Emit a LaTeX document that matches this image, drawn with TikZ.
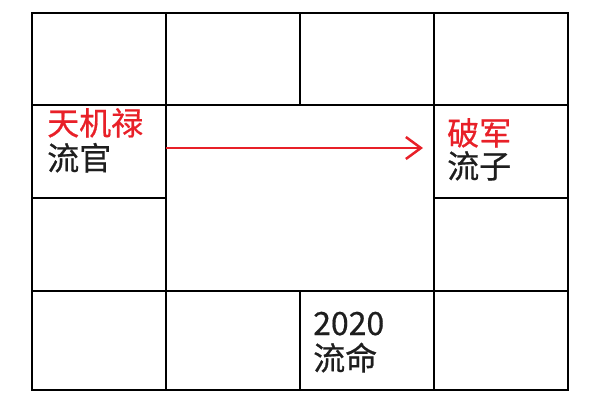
\documentclass[tikz,border=0pt]{standalone}
\usepackage{fontspec}
\newfontfamily\cjk[FakeBold=0.6]{Noto Sans CJK SC}
\usetikzlibrary{arrows.meta,positioning}
\definecolor{starred}{RGB}{232,32,40}
\definecolor{inkgray}{RGB}{30,30,30}

\begin{document}
\begin{tikzpicture}[x=1pt, y=-1pt, >=Straight Barb]
	\tikzset{
		cell/.style={rectangle, draw=black, line width=1.8pt, inner sep=0pt, outer sep=0pt, anchor=north west, minimum width=134pt},
		star/.style={text=starred, inner sep=0pt, anchor=base west, font=\cjk\fontsize{32}{35}\selectfont},
		palace/.style={text=inkgray, inner sep=0pt, anchor=base west, font=\cjk\fontsize{32}{35}\selectfont},
		arrow/.style={draw=starred, line width=2.5pt, ->, >={Straight Barb[length=15pt, width=22pt]}},
	}
	\useasboundingbox (0,0) rectangle (600,400);
	%top row
	\node[cell, minimum height=92pt] (si) at (32,13) {};
	\node[cell, minimum height=92pt] (wu) at (166,13) {};
	\node[cell, minimum height=92pt] (wei) at (300,13) {};
	\node[cell, minimum height=92pt] (shen) at (434,13) {};
	%sides
	\node[cell, minimum height=93pt] (chen) at (32,105) {};
	\node[cell, minimum height=93pt] (mao) at (32,198) {};
	\node[cell, minimum height=93pt] (you) at (434,105) {};
	\node[cell, minimum height=93pt] (xu) at (434,198) {};
	\node[cell, minimum width=268pt, minimum height=186pt] (centre) at (166,105) {};
	%bottom row
	\node[cell, minimum height=99pt] (yin) at (32,291) {};
	\node[cell, minimum height=99pt] (chou) at (166,291) {};
	\node[cell, minimum height=99pt] (zi) at (300,291) {};
	\node[cell, minimum height=99pt] (hai) at (434,291) {};
	%labels
	\node[star] (tianji) at (47,135) {天机禄};
	\node[palace, below=35pt of tianji.base west, anchor=base west] (liuguan) {流官};
	\node[star] (pojun) at (447,145) {破军};
	\node[palace, below=33pt of pojun.base west, anchor=base west] (liuzi) {流子};
	\node[palace] (year) at (313,335) {2020};
	\node[palace, below=35pt of year.base west, anchor=base west] (liuming) {流命};
	%Draw arrow
	\draw[arrow] ([yshift=3.5pt]chen.east) -- ([xshift=-11pt, yshift=3.5pt]you.west);
\end{tikzpicture}
\end{document}
